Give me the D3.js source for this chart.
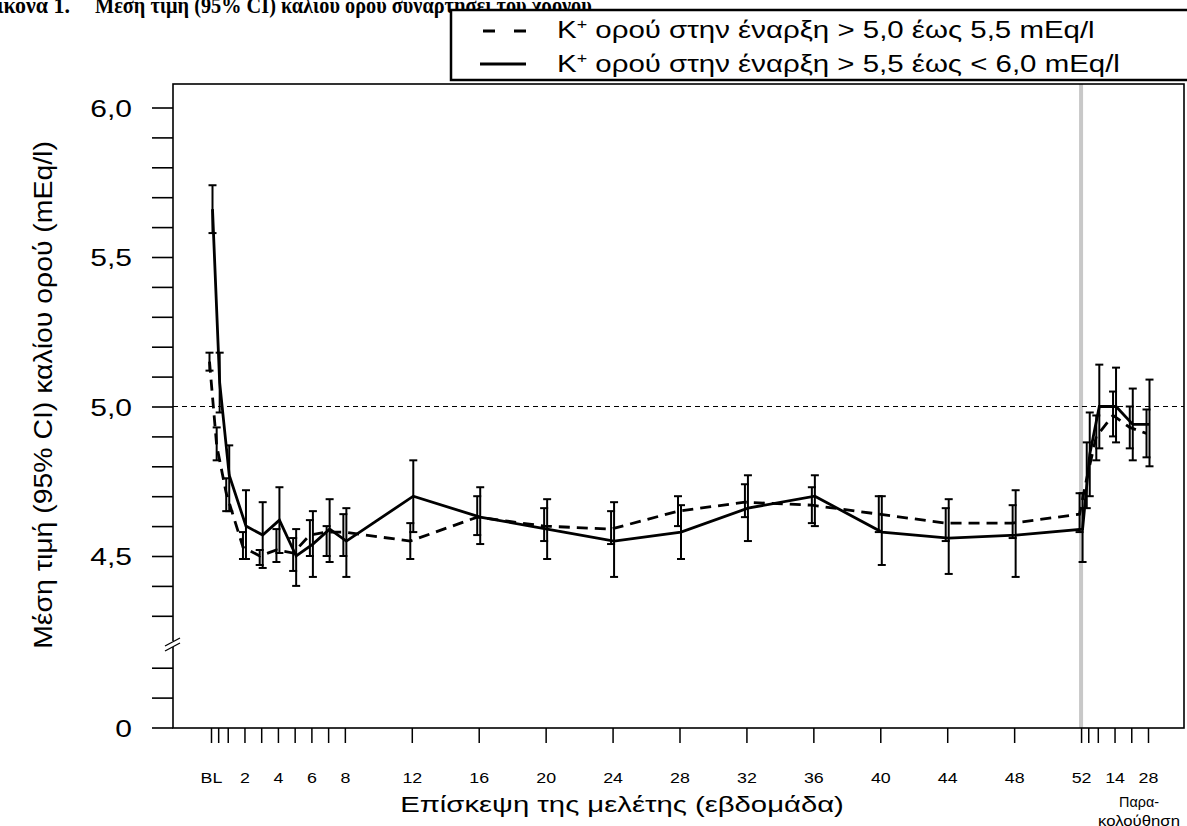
<!DOCTYPE html>
<html>
<head>
<meta charset="utf-8">
<script src="https://cdn.jsdelivr.net/npm/d3@7"></script>
<style>
body { margin: 0; background: #fff; }
svg { display: block; font-family: "Liberation Sans", Arial, sans-serif; }
</style>
</head>
<body>
<svg id="chart" width="1187" height="826"></svg>
<script>
// visits in weeks (BL, day 3, weeks 1-8, every 4 weeks, then follow-up days 3,7,14,21,28)
var visitWeeks = [0, 3/7, 1, 2, 3, 4, 5, 6, 7, 8, 12, 16, 20, 24, 28, 32, 36, 40, 44, 48, 52,
    52 + 3/7, 53, 54, 55, 56];
var visitLabels = ["BL", "", "", "2", "", "4", "", "6", "", "8", "12", "16", "20", "24", "28",
    "32", "36", "40", "44", "48", "52", "", "", "14", "", "28"];

// K+ at baseline > 5.0 to 5.5 mEq/l (dashed)
var meanLow = [5.15, 4.87, 4.71, 4.53, 4.50, 4.52, 4.51, 4.57, 4.58, 4.58, 4.55, 4.63, 4.60,
    4.59, 4.65, 4.68, 4.67, 4.64, 4.61, 4.61, 4.64, 4.76, 4.90, 4.97, 4.93, 4.91];
var ciLowLo = [5.12, 4.82, 4.65, 4.49, 4.47, 4.48, 4.45, 4.50, 4.50, 4.50, 4.49, 4.57, 4.55,
    4.54, 4.60, 4.63, 4.61, 4.58, 4.55, 4.56, 4.58, 4.66, 4.82, 4.90, 4.86, 4.83];
var ciLowHi = [5.18, 4.93, 4.76, 4.58, 4.52, 4.59, 4.56, 4.62, 4.60, 4.64, 4.61, 4.70, 4.66,
    4.65, 4.70, 4.74, 4.73, 4.70, 4.66, 4.67, 4.71, 4.88, 4.97, 5.05, 5.00, 4.99];

// K+ at baseline > 5.5 to < 6.0 mEq/l (solid)
var meanHigh = [5.66, 5.08, 4.77, 4.60, 4.57, 4.62, 4.50, 4.54, 4.59, 4.55, 4.70, 4.63, 4.59,
    4.55, 4.58, 4.66, 4.70, 4.58, 4.56, 4.57, 4.59, 4.84, 5.00, 5.00, 4.94, 4.94];
var ciHighLo = [5.58, 4.98, 4.65, 4.49, 4.46, 4.51, 4.40, 4.43, 4.48, 4.43, 4.58, 4.54, 4.49,
    4.43, 4.49, 4.55, 4.60, 4.47, 4.44, 4.43, 4.48, 4.70, 4.86, 4.88, 4.82, 4.80];
var ciHighHi = [5.74, 5.18, 4.87, 4.72, 4.68, 4.73, 4.59, 4.65, 4.69, 4.66, 4.82, 4.73, 4.69,
    4.68, 4.67, 4.77, 4.77, 4.70, 4.69, 4.72, 4.71, 4.98, 5.14, 5.13, 5.06, 5.09];

var yTicks = [4.3, 4.4, 4.5, 4.6, 4.7, 4.8, 4.9, 5.0, 5.1, 5.2, 5.3, 5.4, 5.5, 5.6, 5.7, 5.8, 5.9, 6.0];
var yMajor = [4.5, 5.0, 5.5, 6.0];
var yLowTicks = [0, 0.1, 0.2];

var svg = d3.select("#chart");
var plotL = 173, plotR = 1184, plotT = 84, plotB = 728;

var x = d3.scaleLinear().domain([0, 56]).range([211, 1148]);
var y = d3.scaleLinear().domain([4.5, 6.0]).range([556, 107.5]);
var yLow = d3.scaleLinear().domain([0, 0.2]).range([727.5, 667.7]);
var comma = function(v) { return v.toFixed(1).replace(".", ","); };

// the figure is a bit wider than a plain font, so texts are stretched to the measured width
function stretchTo(sel, x0, y0, width, extra) {
    sel.attr("x", 0).attr("y", 0);
    var w = sel.node().getBBox().width;
    sel.attr("transform", "translate(" + x0 + "," + y0 + ")" + (extra || "") +
        " scale(" + (width / w) + ",1)");
    return sel;
}

// title (cut at the top of the page)
var serif = "'Liberation Serif', 'Times New Roman', serif";
stretchTo(svg.append("text")
    .attr("text-anchor", "end")
    .style("font-family", serif).style("font-weight", "bold").style("font-size", "24px")
    .text("Εικόνα 1."), 70, 13, 88);
stretchTo(svg.append("text")
    .style("font-family", serif).style("font-weight", "bold").style("font-size", "24px")
    .text("Μέση τιμή (95% CI) καλίου ορού συναρτήσει του χρόνου"), 95, 13, 497);

// 52 week marker
svg.append("line")
    .attr("x1", x(52)).attr("x2", x(52))
    .attr("y1", plotT).attr("y2", plotB)
    .attr("stroke", "#c8c8c8").attr("stroke-width", 4);

// reference 5.0
svg.append("line")
    .attr("x1", plotL).attr("x2", plotR)
    .attr("y1", y(5.0)).attr("y2", y(5.0))
    .attr("stroke", "#000").attr("stroke-width", 1)
    .attr("stroke-dasharray", "5,4");

// frame
svg.append("rect")
    .attr("x", plotL).attr("y", plotT)
    .attr("width", plotR - plotL).attr("height", plotB - plotT)
    .attr("fill", "none").attr("stroke", "#000").attr("stroke-width", 1.6);

// y axis
var yAxis = svg.append("g")
    .attr("transform", "translate(" + plotL + ",0)")
    .call(d3.axisLeft(y).tickValues(yTicks).tickSize(21)
        .tickFormat(function(d) { return yMajor.some(function(m) { return Math.abs(m - d) < 1e-6; }) ? comma(d) : ""; }));
var yAxisLow = svg.append("g")
    .attr("transform", "translate(" + plotL + ",0)")
    .call(d3.axisLeft(yLow).tickValues(yLowTicks).tickSize(21)
        .tickFormat(function(d) { return d === 0 ? "0" : ""; }));
[yAxis, yAxisLow].forEach(function(g) {
    g.select(".domain").remove();
    g.selectAll(".tick line").attr("stroke-width", 1.6);
    g.selectAll("text")
        .style("font-size", "24px").style("font-family", "'Liberation Sans', Arial, sans-serif")
        .attr("x", 0).attr("dy", "0.36em")
        .attr("transform", "translate(-41,0) scale(1.25,1)");
});

// axis break
svg.append("rect").attr("x", plotL - 4).attr("y", 641).attr("width", 8).attr("height", 6).attr("fill", "#fff");
svg.append("line").attr("x1", plotL - 8).attr("y1", 646).attr("x2", plotL + 7).attr("y2", 638)
    .attr("stroke", "#000").attr("stroke-width", 1.3);
svg.append("line").attr("x1", plotL - 8).attr("y1", 651).attr("x2", plotL + 7).attr("y2", 643)
    .attr("stroke", "#000").attr("stroke-width", 1.3);

// x axis
var xAxis = svg.append("g")
    .attr("transform", "translate(0," + plotB + ")")
    .call(d3.axisBottom(x).tickValues(visitWeeks).tickSize(15)
        .tickFormat(function(d, i) { return visitLabels[i]; }));
xAxis.select(".domain").remove();
xAxis.selectAll(".tick line").attr("stroke-width", 1.5);
xAxis.selectAll("text")
    .style("font-size", "15.5px").style("font-family", "'Liberation Sans', Arial, sans-serif")
    .attr("y", 0).attr("dy", null)
    .attr("transform", "translate(0,54.5) scale(1.15,1)");

// axis titles
stretchTo(svg.append("text")
    .attr("text-anchor", "middle")
    .style("font-size", "22px")
    .text("Επίσκεψη της μελέτης (εβδομάδα)"), 622, 812, 444);
stretchTo(svg.append("text")
    .attr("text-anchor", "middle").style("font-size", "15px")
    .text("Παρα-"), 1139, 807, 40);
stretchTo(svg.append("text")
    .attr("text-anchor", "middle").style("font-size", "15px")
    .text("κολούθηση"), 1139, 826, 82);
stretchTo(svg.append("text")
    .attr("text-anchor", "middle")
    .style("font-size", "26px")
    .text("Μέση τιμή (95% CI) καλίου ορού (mEq/l)"), 52, 395, 508, " rotate(-90)");

// series
function drawSeries(means, lo, hi, off, dash) {
    var g = svg.append("g");
    var px = function(i) { return x(visitWeeks[i]) + off; };
    var line = d3.line()
        .x(function(d, i) { return px(i); })
        .y(function(d) { return y(d); });
    g.selectAll(null)
        .data(means)
        .enter().append("line")
        .attr("x1", function(d, i) { return px(i); })
        .attr("x2", function(d, i) { return px(i); })
        .attr("y1", function(d, i) { return y(lo[i]); })
        .attr("y2", function(d, i) { return y(hi[i]); })
        .attr("stroke", "#000").attr("stroke-width", 2);
    [lo, hi].forEach(function(arr) {
        g.selectAll(null)
            .data(arr)
            .enter().append("line")
            .attr("x1", function(d, i) { return px(i) - 4; })
            .attr("x2", function(d, i) { return px(i) + 4; })
            .attr("y1", function(d) { return y(d); })
            .attr("y2", function(d) { return y(d); })
            .attr("stroke", "#000").attr("stroke-width", 2);
    });
    g.append("path")
        .datum(means)
        .attr("d", line)
        .attr("fill", "none")
        .attr("stroke", "#000")
        .attr("stroke-width", 2.8)
        .attr("stroke-dasharray", dash);
}
drawSeries(meanLow, ciLowLo, ciLowHi, -1.5, "11,7");
drawSeries(meanHigh, ciHighLo, ciHighHi, 1.5, null);

// legend
var legend = svg.append("g");
legend.append("path")
    .attr("d", "M1190,10 H451 V80 H1190")
    .attr("fill", "#fff").attr("stroke", "#000").attr("stroke-width", 2.5);
legend.append("line")
    .attr("x1", 483).attr("x2", 527).attr("y1", 31).attr("y2", 31)
    .attr("stroke", "#000").attr("stroke-width", 2.8).attr("stroke-dasharray", "12,19");
legend.append("line")
    .attr("x1", 480).attr("x2", 526).attr("y1", 64).attr("y2", 64)
    .attr("stroke", "#000").attr("stroke-width", 2.8);
var legendTexts = [" ορού στην έναρξη > 5,0 έως 5,5 mEq/l", " ορού στην έναρξη > 5,5 έως < 6,0 mEq/l"];
var legendWidths = [538, 563];
legendTexts.forEach(function(t, i) {
    var tx = legend.append("text").style("font-size", "23px");
    tx.append("tspan").text("K");
    tx.append("tspan").attr("dy", -9).style("font-size", "14px").text("+");
    tx.append("tspan").attr("dy", 9).text(t);
    stretchTo(tx, 557, 38 + i * 33.5, legendWidths[i]);
});
</script>
</body>
</html>
